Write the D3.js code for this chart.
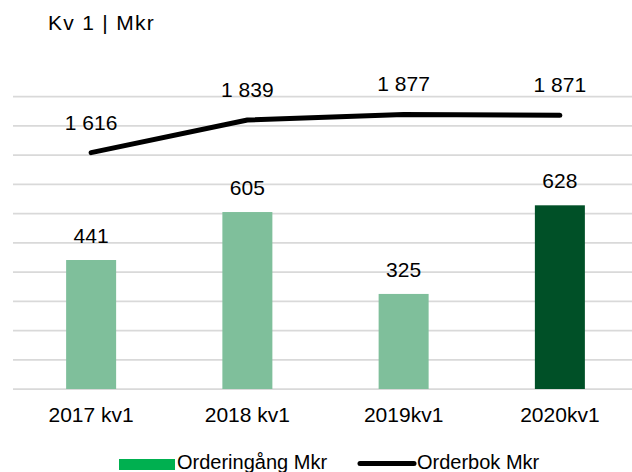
<!DOCTYPE html>
<html>
<head>
<meta charset="utf-8">
<script src="https://cdn.jsdelivr.net/npm/d3@7"></script>
<style>
  html, body { margin: 0; padding: 0; background: #fff; }
  svg { display: block; font-family: "Liberation Sans", Arial, sans-serif; }
</style>
</head>
<body>
<div id="chart"></div>
<script>
const categories = ["2017 kv1", "2018 kv1", "2019kv1", "2020kv1"];
const orderingang = [441, 605, 325, 628];
const orderbok = [1616, 1839, 1877, 1871];
const barColors = ["#7fbf9b", "#7fbf9b", "#7fbf9b", "#005027"];
const primaryTicks = [0, 100, 200, 300, 400, 500, 600, 700, 800, 900, 1000];
const titleText = "Kv 1 | Mkr";
const legendLabels = ["Orderingång Mkr", "Orderbok Mkr"];

const W = 632, H = 472;
const svg = d3.select("#chart").append("svg").attr("width", W).attr("height", H);

const x = d3.scaleBand().domain(categories).range([13, 638]).paddingInner(0.68).paddingOuter(0.34);
const y = d3.scaleLinear().domain([0, 1000]).range([389, 96.5]);
const y2 = d3.scaleLinear().domain([0, 2000]).range([389, 96.5]);
const fmt = v => d3.format(",")(v).replace(/,/g, " ");

// title
svg.append("text").attr("x", 48).attr("y", 30).attr("font-size", 21)
  .attr("letter-spacing", 1.3).attr("fill", "#000").text(titleText);

// gridlines
svg.append("g").selectAll("line").data(primaryTicks).join("line")
  .attr("x1", 13).attr("x2", W)
  .attr("y1", d => y(d)).attr("y2", d => y(d))
  .attr("stroke", "#d9d9d9").attr("stroke-width", 1.75);

// bars
svg.append("g").selectAll("rect").data(orderingang).join("rect")
  .attr("x", (d, i) => x(categories[i]))
  .attr("width", x.bandwidth())
  .attr("y", d => y(d))
  .attr("height", d => y(0) - y(d))
  .attr("fill", (d, i) => barColors[i]);

// bar labels
svg.append("g").selectAll("text").data(orderingang).join("text")
  .attr("x", (d, i) => x(categories[i]) + x.bandwidth() / 2)
  .attr("y", d => y(d) - 17)
  .attr("text-anchor", "middle").attr("font-size", 21).attr("fill", "#000")
  .text(d => fmt(d));

// line
const line = d3.line()
  .x((d, i) => x(categories[i]) + x.bandwidth() / 2)
  .y(d => y2(d));
svg.append("path").datum(orderbok).attr("d", line)
  .attr("fill", "none").attr("stroke", "#000").attr("stroke-width", 5)
  .attr("stroke-linecap", "round").attr("stroke-linejoin", "round");

// line labels
svg.append("g").selectAll("text").data(orderbok).join("text")
  .attr("x", (d, i) => x(categories[i]) + x.bandwidth() / 2)
  .attr("y", d => y2(d) - 23)
  .attr("text-anchor", "middle").attr("font-size", 21).attr("fill", "#000")
  .text(d => fmt(d));

// x axis labels
const xAxis = d3.axisBottom(x).tickSize(0).tickPadding(0);
const gx = svg.append("g").attr("transform", `translate(0, ${y(0)})`).call(xAxis);
gx.select(".domain").remove();
gx.selectAll("text").attr("font-size", 21).attr("fill", "#000")
  .attr("font-family", "Liberation Sans, Arial, sans-serif")
  .attr("dy", null).attr("y", 33);

// legend
const lg = svg.append("g");
lg.append("rect").attr("x", 119).attr("y", 459).attr("width", 56).attr("height", 11).attr("fill", "#00b050");
lg.append("text").attr("x", 177).attr("y", 469).attr("font-size", 20).attr("fill", "#000").text(legendLabels[0]);
lg.append("line").attr("x1", 360).attr("x2", 414).attr("y1", 463.5).attr("y2", 463.5)
  .attr("stroke", "#000").attr("stroke-width", 5).attr("stroke-linecap", "round");
lg.append("text").attr("x", 417).attr("y", 469).attr("font-size", 20).attr("fill", "#000").text(legendLabels[1]);
</script>
</body>
</html>
